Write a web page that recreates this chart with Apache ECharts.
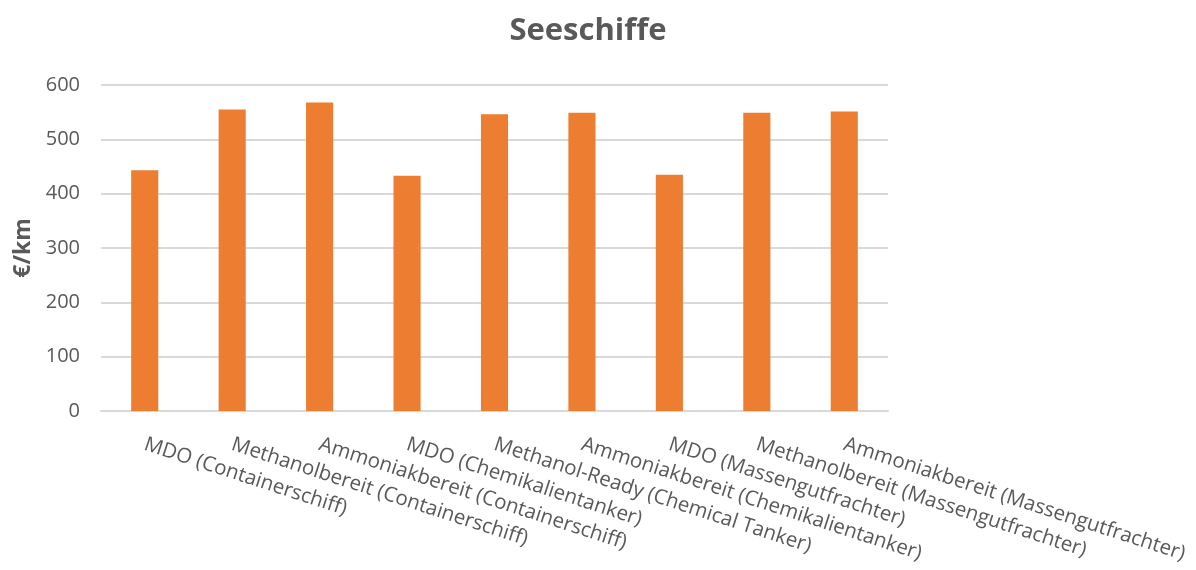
<!DOCTYPE html>
<html lang="de">
<head>
    <meta charset="UTF-8">
    <title>Seeschiffe</title>
    <script src="https://cdn.jsdelivr.net/npm/echarts@6/dist/echarts.min.js"></script>
</head>
<body style="margin:0">
<div id="chart" style="width: 1196px;height:570px;"></div>
<script>
    // Kategorien (x-Achse)
    var kategorien = [
        'MDO (Containerschiff)',
        'Methanolbereit (Containerschiff)',
        'Ammoniakbereit (Containerschiff)',
        'MDO (Chemikalientanker)',
        'Methanol-Ready (Chemical Tanker)',
        'Ammoniakbereit (Chemikalientanker)',
        'MDO (Massengutfrachter)',
        'Methanolbereit (Massengutfrachter)',
        'Ammoniakbereit (Massengutfrachter)'
    ];
    // Kosten in €/km
    var werte = [443, 555, 568, 433, 546, 549, 435, 549, 551];
    // y-Achse
    var yMin = 0, yMax = 600, yStep = 100;

    var myChart = echarts.init(document.getElementById('chart'));
    var option = {
        backgroundColor: '#ffffff',
        title: {
            text: 'Seeschiffe',
            left: 583,
            textAlign: 'center',
            top: 11,
            textStyle: {
                color: '#595959',
                fontFamily: 'Open Sans',
                fontWeight: 'bold',
                fontSize: 31
            }
        },
        grid: {
            left: 101,
            right: 308,
            top: 85,
            bottom: 159
        },
        xAxis: {
            type: 'category',
            data: kategorien,
            axisTick: {show: false},
            axisLine: {lineStyle: {color: '#d9d9d9', width: 2}},
            axisLabel: {
                interval: 0,
                rotate: -18,
                margin: 33,
                color: '#595959',
                fontFamily: 'Open Sans',
                fontSize: 20.5
            }
        },
        yAxis: {
            type: 'value',
            min: yMin,
            max: yMax,
            interval: yStep,
            name: '€/km',
            nameLocation: 'middle',
            nameGap: 60,
            nameTextStyle: {
                color: '#595959',
                fontFamily: 'Open Sans',
                fontWeight: 'bold',
                fontSize: 23
            },
            axisLabel: {
                margin: 21,
                color: '#595959',
                fontFamily: 'Open Sans',
                fontSize: 20
            },
            splitLine: {lineStyle: {color: '#d9d9d9', width: 2}}
        },
        series: [{
            type: 'bar',
            data: werte,
            barWidth: '31%',
            itemStyle: {color: '#ED7D31'}
        }]
    };
    myChart.setOption(option);
</script>
</body>
</html>
